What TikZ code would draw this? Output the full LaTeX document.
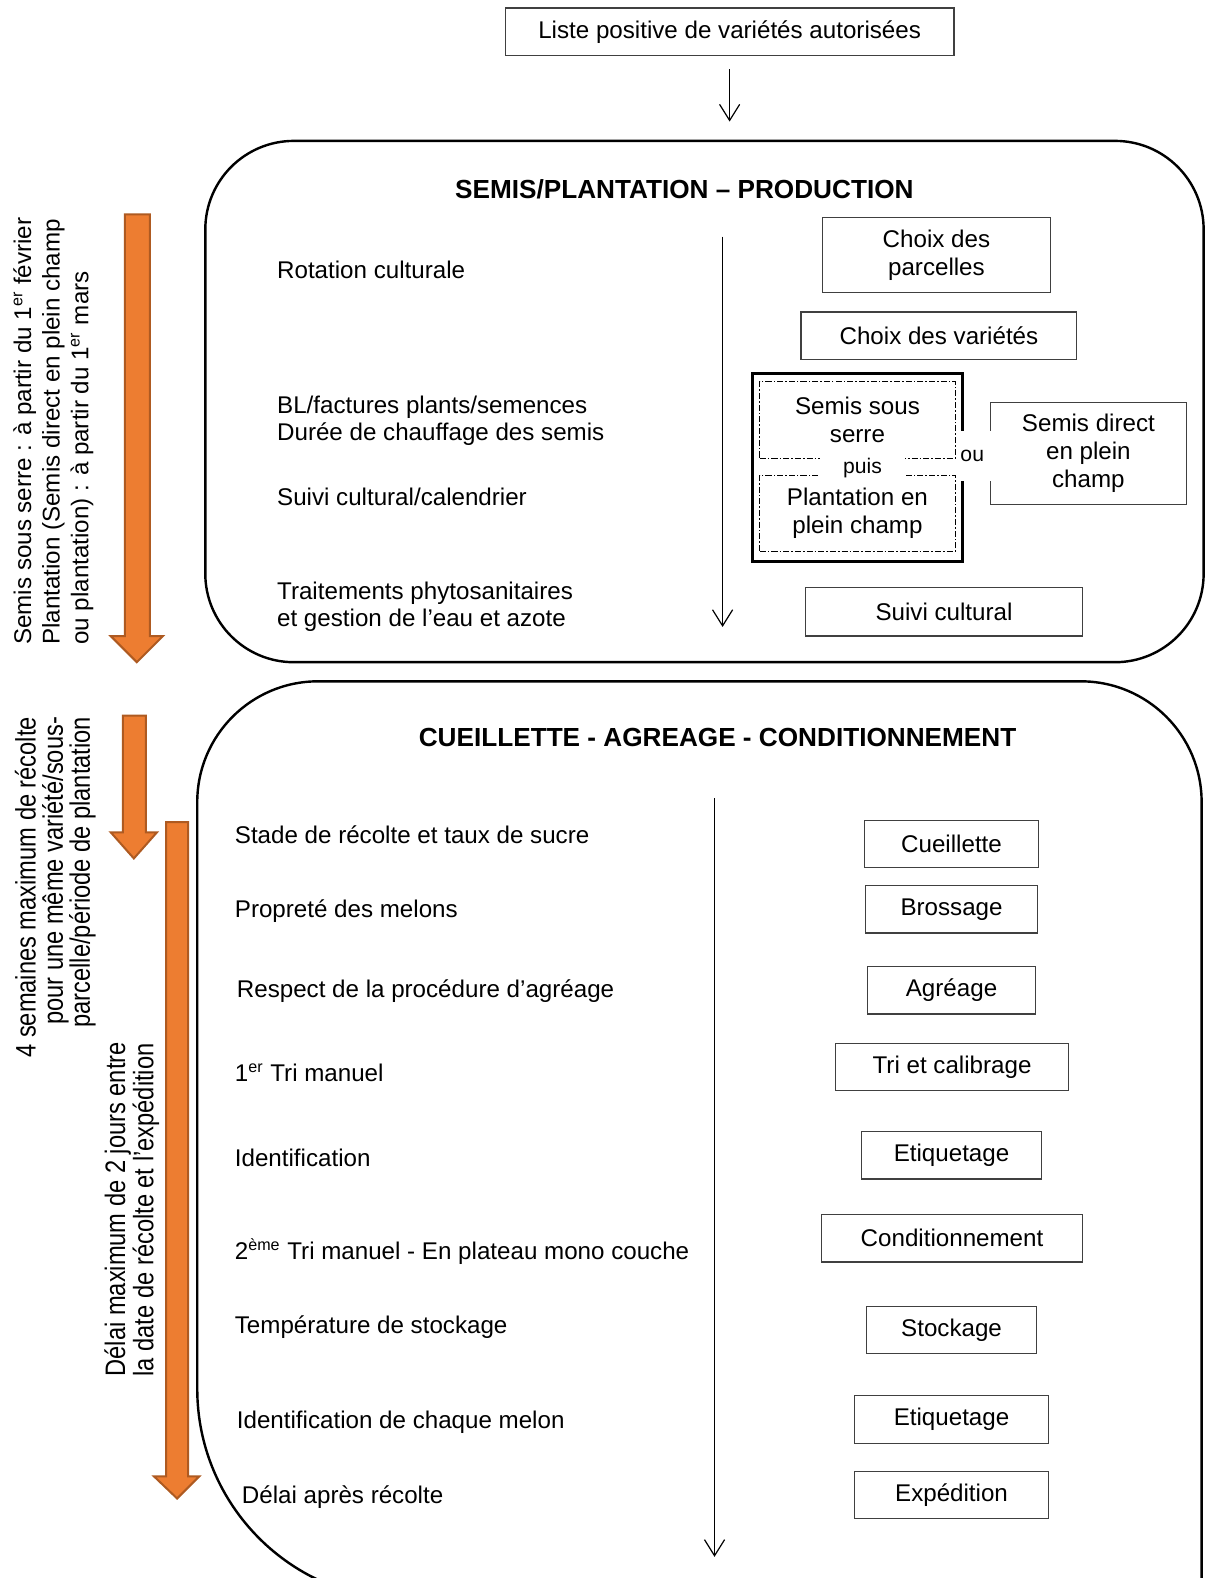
\documentclass[tikz,border=0pt]{standalone}
\usepackage{fontspec}
\setmainfont{Liberation Sans}
\newfontfamily\etroit[FakeStretch=0.84]{Liberation Sans}
\usetikzlibrary{arrows.meta}
\definecolor{orangeclair}{HTML}{ED7D31}
\definecolor{orangefonce}{HTML}{AE5A21}

\begin{document}
\begin{tikzpicture}[x=0.5pt,y=-0.5pt,
  font=\fontsize{12}{13.8}\selectfont,
  zone/.style={draw,line width=1.2pt,rounded corners=44pt},
  etape/.style={draw=black!75,line width=0.6pt,align=center,inner sep=0pt},
  titre/.style={font=\fontsize{13}{15}\selectfont\bfseries},
  critere/.style={anchor=west,align=left,inner sep=0pt},
  fleche/.style={-{Straight Barb[length=8pt,width=10pt]},line width=0.6pt},
  flecheorange/.style={fill=orangeclair,draw=orangefonce,line width=1pt},
  pointille/.style={draw,line width=0.4pt,dash pattern=on 3pt off 1pt on 0.8pt off 1pt,inner sep=0pt,align=center},
  vertical/.style={rotate=90,inner sep=0pt}]
\useasboundingbox (0,0) rectangle (1197,1568);

% cadres
\node[zone,minimum width=496pt,minimum height=259pt] (production) at (700,399) {};
\draw[line width=1.2pt] (196,1380) -- (196,797) arc[start angle=180,end angle=90,radius=60pt]
  -- (1074,677) arc[start angle=90,end angle=0,radius=60pt] -- (1194,1590)
  -- (406,1590) arc[start angle=270,end angle=180,radius=105pt] -- cycle;

\node[etape,minimum width=223pt,minimum height=23.5pt] (liste) at (725,31.5) {Liste positive de variétés autorisées};
\draw[fleche,shorten <=6.5pt,shorten >=9pt] (liste.south) -- (liste.south |- production.north);

% semis / plantation
\node[titre] (titreprod) at (680,188) {SEMIS/PLANTATION -- PRODUCTION};
\node[critere] (rotation) at (275,268) {Rotation culturale};
\node[critere] (factures) at (275,418) {BL/factures plants/semences\\Durée de chauffage des semis};
\node[critere] (calendrier) at (275,494) {Suivi cultural/calendrier};
\node[critere] (traitements) at (275,603) {Traitements phytosanitaires\\et gestion de l’eau et azote};
\coordinate (prodhaut) at (718,235);
\coordinate (prodbas) at (718,623);
\draw[fleche] (prodhaut) -- (prodbas);

\node[etape,minimum width=113.5pt,minimum height=37.5pt] (parcelles) at (930.5,253.5) {Choix des\\parcelles};
\node[etape,minimum width=137pt,minimum height=23.5pt] (varietes) at (933,333.5) {Choix des variétés};
\node[draw,line width=1.5pt,minimum width=104pt,minimum height=93.5pt] (serre) at (852,464.5) {};
\node[etape,minimum width=97.5pt,minimum height=50.5pt] (direct) at (1081.5,450.5) {Semis direct\\en plein\\champ};
\node[anchor=west,fill=white,inner xsep=0pt,minimum height=25pt,text width=18pt,align=left,
  font=\fontsize{10.5}{12}\selectfont] (ou) at (954,453) {ou};
\node[pointille,minimum width=97pt,minimum height=38pt] (sousserre) at (852,417) {Semis sous\\serre};
\node[pointille,minimum width=97pt,minimum height=38pt] (pleinchamp) at (852,510) {Plantation en\\plein champ};
\node[fill=white,inner sep=0pt,minimum width=42pt,minimum height=14pt,
  font=\fontsize{10.5}{12}\selectfont] (puis) at (857,465) {puis};
\node[etape,minimum width=138pt,minimum height=24pt] (suivi) at (938,608) {Suivi cultural};

% cueillette / agreage / conditionnement
\node[titre] (titrecueil) at (713,733) {CUEILLETTE - AGREAGE - CONDITIONNEMENT};
\node[critere] (stade) at (233,829) {Stade de récolte et taux de sucre};
\node[critere] (proprete) at (233,905) {Propreté des melons};
\node[critere] (procedure) at (235,985) {Respect de la procédure d’agréage};
\node[critere] (tri1) at (233,1066) {1\textsuperscript{er} Tri manuel};
\node[critere] (ident) at (233,1151) {Identification};
\node[critere] (tri2) at (233,1244) {2\textsuperscript{ème} Tri manuel - En plateau mono couche};
\node[critere] (temperature) at (233,1319) {Température de stockage};
\node[critere] (identmelon) at (235,1413) {Identification de chaque melon};
\node[critere] (delaiapres) at (240,1488) {Délai après récolte};
\coordinate (cueilhaut) at (710,793);
\coordinate (cueilbas) at (710,1547);
\draw[fleche] (cueilhaut) -- (cueilbas);

\node[etape,minimum width=86.5pt,minimum height=23.5pt] (cueillette) at (945.5,838.5) {Cueillette};
\node[etape,minimum width=85.5pt,minimum height=23.5pt] (brossage) at (945.5,903.5) {Brossage};
\node[etape,minimum width=83.5pt,minimum height=23.5pt] (agreage) at (945.5,984) {Agréage};
\node[etape,minimum width=116pt,minimum height=23.5pt] (calibrage) at (946,1060) {Tri et calibrage};
\node[etape,minimum width=89.5pt,minimum height=23.5pt] (etiquetage) at (945.5,1148) {Etiquetage};
\node[etape,minimum width=130pt,minimum height=23.5pt] (conditionnement) at (946,1230.5) {Conditionnement};
\node[etape,minimum width=84.5pt,minimum height=23.5pt] (stockage) at (945.5,1321.5) {Stockage};
\node[etape,minimum width=96.5pt,minimum height=23.5pt] (etiquetagemelon) at (945.5,1410.5) {Etiquetage};
\node[etape,minimum width=96.5pt,minimum height=23.5pt] (expedition) at (945.5,1485.5) {Expédition};

% delais
\draw[flecheorange] (124,213) -- (149,213) -- (149,632) -- (162,632) -- (136,658) -- (110,632) -- (124,632) -- cycle;
\draw[flecheorange] (122,711) -- (145,711) -- (145,827) -- (156,827) -- (133,853) -- (110,827) -- (122,827) -- cycle;
\draw[flecheorange] (165,817) -- (187,817) -- (187,1467) -- (198,1467) -- (176,1489) -- (153,1467) -- (165,1467) -- cycle;
\node[vertical,anchor=west,align=left,font=\fontsize{12}{14.2}\selectfont] (periode) at (53,641)
  {Semis sous serre : à partir du 1\textsuperscript{er} février\\Plantation (Semis direct en plein champ\\ou plantation) : à partir du 1\textsuperscript{er} mars};
\node[vertical,anchor=east,align=right,font=\etroit\fontsize{14}{13.5}\selectfont] (quatresemaines) at (55,712)
  {4 semaines maximum de récolte\\pour une même variété/sous-\\parcelle/période de plantation};
\node[vertical,anchor=west,align=left,font=\etroit\fontsize{14}{14}\selectfont] (deuxjours) at (131,1368)
  {Délai maximum de 2 jours entre\\la date de récolte et l’expédition};
\end{tikzpicture}
\end{document}
